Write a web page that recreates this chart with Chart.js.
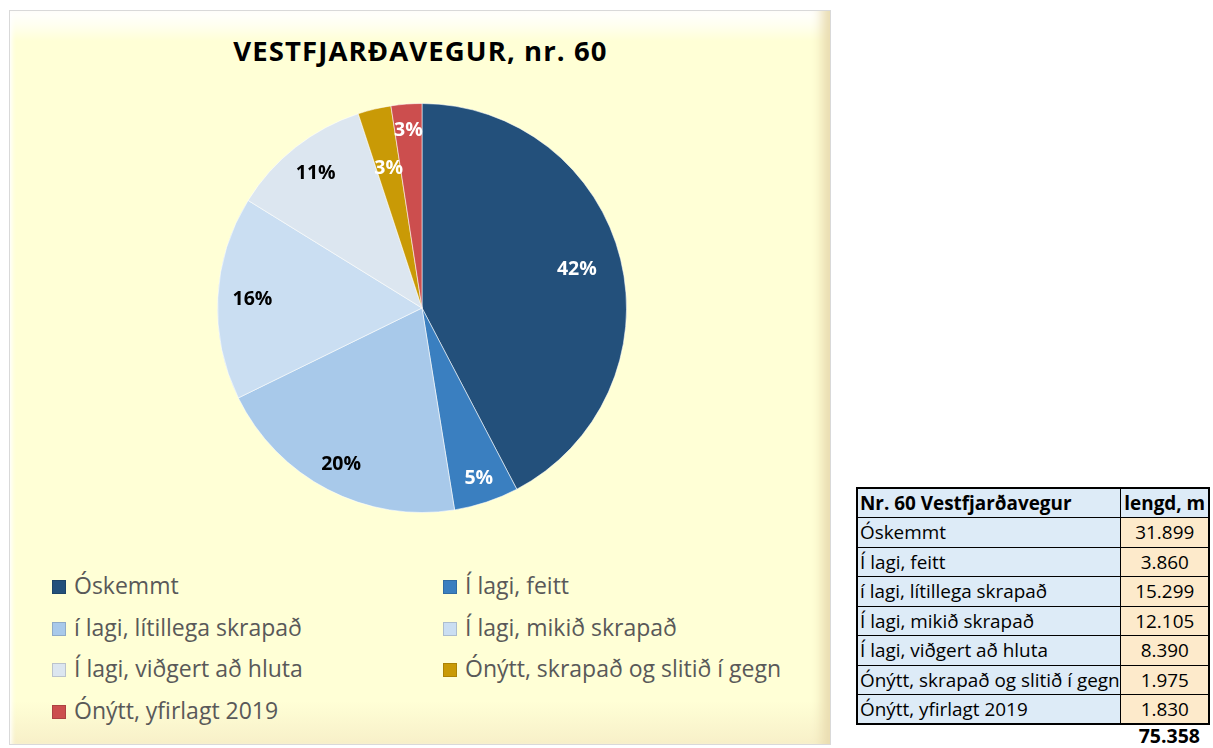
<!DOCTYPE html>
<html>
<head>
<meta charset="utf-8">
<script src="https://cdn.jsdelivr.net/npm/chart.js@4/dist/chart.umd.min.js"></script>
<style>
  html, body { margin:0; padding:0; background:#fff; width:1213px; height:748px; overflow:hidden; font-family:"Open Sans", sans-serif; }
  #panel { position:absolute; left:9px; top:10px; width:822px; height:735px; box-sizing:border-box;
    border:1px solid #d9d9d9;
    background: linear-gradient(to bottom, #ffffff 0px, #fffff0 14px, #ffffd6 30px, #ffffd6 690px, #f7efc8 735px);
    box-shadow: inset -16px 0 12px -8px #e9dcb0, inset 4px 0 4px -2px #ffffff; }
  #title { position:absolute; left:10px; width:821px; top:31px; text-align:center; font-weight:bold; font-size:27.5px; line-height:40px; color:#000; letter-spacing:1.1px; }
  #chartBox { position:absolute; left:212px; top:98px; width:420px; height:420px; }
  .leg { position:absolute; font-size:23px; color:#595959; white-space:nowrap; line-height:26px; }
  .leg .sw { display:inline-block; width:14px; height:14px; margin-right:8px; vertical-align:0px; }
  table { position:absolute; left:856px; top:487px; border-collapse:collapse; font-size:18.9px; color:#000; table-layout:fixed; border:2px solid #000; }
  td { border:1px solid #000; height:29.5px; padding:0 1px 0 2px; white-space:nowrap; overflow:hidden; box-sizing:border-box; line-height:20px; }
  td.l { width:263px; background:#ddebf7; max-width:263px; }
  td.v { width:89px; background:#fdeacb; text-align:center; }
  tr.h td { font-weight:bold; background:#ddebf7; }
  #total { position:absolute; left:1100px; width:100px; top:727px; text-align:right; font-weight:bold; font-size:19.5px; line-height:18px; }
</style>
</head>
<body>
<div id="panel"></div>
<div id="title">VESTFJARÐAVEGUR, nr. 60</div>
<div id="chartBox"><canvas id="c"></canvas></div>
<div id="legend"></div>
<table id="tbl"></table>
<div id="total"></div>
<script>
const categories = ["Óskemmt", "Í lagi, feitt", "í lagi, lítillega skrapað", "Í lagi, mikið skrapað", "Í lagi, viðgert að hluta", "Ónýtt, skrapað og slitið í gegn", "Ónýtt, yfirlagt 2019"];
const lengths = [31899, 3860, 15299, 12105, 8390, 1975, 1830];
const pctLabels = ["42%", "5%", "20%", "16%", "11%", "3%", "3%"];
const tableTitle = "Nr. 60 Vestfjarðavegur";
const tableValueHeader = "lengd, m";

const colors = ["#23507b", "#3a7fc0", "#a8c9ea", "#cadef2", "#dce6f0", "#c99a06", "#cc4e4e"];
const labelColors = ["#fff", "#fff", "#000", "#000", "#000", "#fff", "#fff"];
const labelRadius = [0.78, 0.88, 0.86, 0.83, 0.84, 0.70, 0.87];

const fmt = v => String(v).replace(/\B(?=(\d{3})+(?!\d))/g, ".");

// legend (two columns)
const leg = document.getElementById("legend");
const colX = [52, 443], rowY = [572, 614, 655, 697];
categories.forEach((c, i) => {
  const d = document.createElement("div");
  d.className = "leg";
  d.style.left = colX[i % 2] + "px";
  d.style.top = rowY[Math.floor(i / 2)] + "px";
  d.innerHTML = '<span class="sw" style="background:' + colors[i] + ';box-shadow:inset 0 0 0 1px rgba(0,0,0,0.15)"></span>';
  d.appendChild(document.createTextNode(c));
  leg.appendChild(d);
});

// table
const tbl = document.getElementById("tbl");
let html = '<tr class="h"><td class="l">' + tableTitle + '</td><td class="v" style="background:#ddebf7">' + tableValueHeader + '</td></tr>';
categories.forEach((c, i) => { html += '<tr><td class="l">' + c + '</td><td class="v">' + fmt(lengths[i]) + '</td></tr>'; });
tbl.innerHTML = html;
document.getElementById("total").textContent = fmt(lengths.reduce((a, b) => a + b, 0));

const pctPlugin = {
  id: "pctLabels",
  afterDatasetsDraw(chart) {
    const ctx = chart.ctx;
    const meta = chart.getDatasetMeta(0);
    ctx.save();
    ctx.font = "bold 19.5px 'Open Sans', sans-serif";
    ctx.textAlign = "center";
    ctx.textBaseline = "middle";
    meta.data.forEach((arc, i) => {
      const p = arc.getProps(["x", "y", "startAngle", "endAngle", "outerRadius"], true);
      const a = (p.startAngle + p.endAngle) / 2;
      const r = p.outerRadius * labelRadius[i];
      ctx.fillStyle = labelColors[i];
      ctx.fillText(pctLabels[i], p.x + Math.cos(a) * r, p.y + Math.sin(a) * r);
    });
    ctx.restore();
  }
};

new Chart(document.getElementById("c"), {
  type: "pie",
  data: {
    labels: categories,
    datasets: [{
      data: lengths,
      backgroundColor: colors,
      borderColor: "rgba(255,255,255,0.55)",
      borderWidth: 1
    }]
  },
  options: {
    responsive: true,
    maintainAspectRatio: false,
    animation: false,
    layout: { padding: 5 },
    plugins: { legend: { display: false }, tooltip: { enabled: false }, title: { display: false } }
  },
  plugins: [pctPlugin]
});
</script>
</body>
</html>
